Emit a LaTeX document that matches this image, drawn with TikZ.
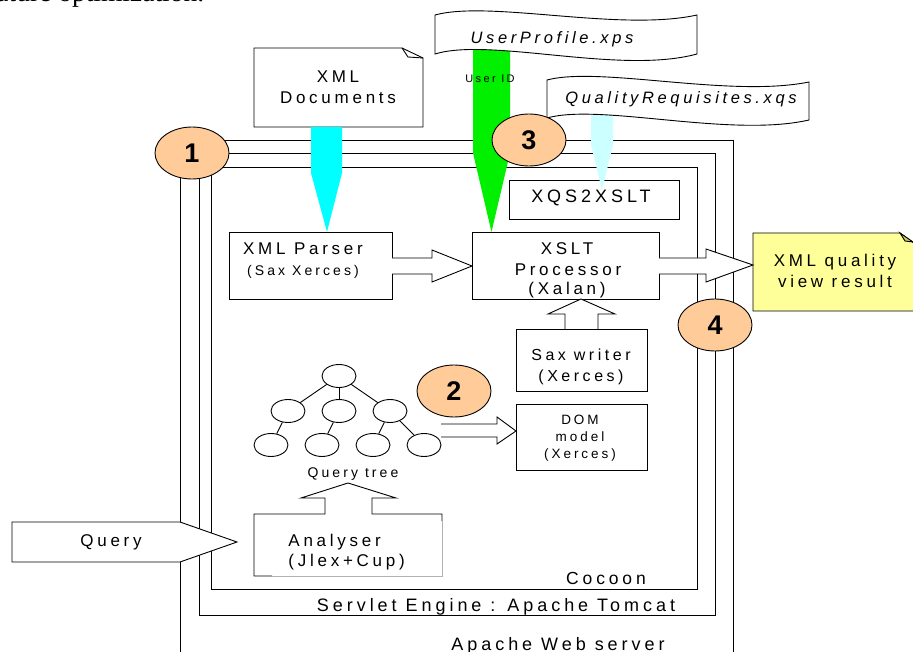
\documentclass[tikz,border=0pt]{standalone}
\usepackage{fontspec}
\setmainfont{Liberation Sans}
\newfontfamily\lsp[LetterSpace=22]{Liberation Sans}
\newfontfamily\serifx{Liberation Serif}
\usetikzlibrary{shapes.geometric}
\definecolor{orng}{HTML}{FFCC99}
\definecolor{cyn}{HTML}{00FFFF}
\definecolor{grn}{HTML}{00F000}
\definecolor{lcyn}{HTML}{CCFFFF}
\definecolor{ylw}{HTML}{FFFF99}
\definecolor{foldc}{HTML}{CCCC66}
\newcommand{\fsz}[1]{\fontsize{#1}{#1}\selectfont}
\begin{document}
\begin{tikzpicture}[x=1pt,y=-1pt,line width=0.9pt,
  lbl/.style={inner sep=0pt,anchor=base},
  t16/.style={lbl,font=\lsp\fsz{17}},
  t15/.style={lbl,font=\lsp\fsz{16}},
  t13/.style={lbl,font=\lsp\fsz{14}},
  tf/.style={lbl,font=\lsp\fsz{18}},
  ti/.style={lbl,font=\lsp\itshape\fsz{16.5}},
  boxnode/.style={draw,rectangle,inner sep=0pt},
  blk/.style={draw,fill=white,line join=miter},
  num/.style={ellipse,draw,fill=orng,minimum width=74pt,minimum height=52pt,inner sep=0pt,font=\bfseries\fsz{27}},
  leaf/.style={ellipse,draw,minimum width=34pt,minimum height=23pt,inner sep=0pt}]
\useasboundingbox (0,0) rectangle (913,652);

% fragment of running text
\node[inner sep=0pt,anchor=base west,font=\serifx\fsz{27.5}] (frag) at (-4,2) {ature optimization.};

% frames
\draw (180,660) -- (180,140) -- (733,140) -- (733,660);
\draw (199,153) rectangle (715,615);
\draw (211,167) rectangle (697,589);
\node[t16,font=\lsp\fsz{17.5}] (cocoon) at (606,584) {Cocoon};
\node[tf] (servlet) at (496,611) {Servlet Engine : Apache Tomcat};
\node[tf] (apache) at (558,650) {Apache Web server};

% boxes
\node[boxnode,minimum width=163pt,minimum height=67pt] (parser) at (310.5,265.5) {};
\node[boxnode,minimum width=187pt,minimum height=67pt] (xslt) at (565.5,265.5) {};
\node[boxnode,minimum width=170pt,minimum height=39pt] (xqs) at (594,199.5) {};
\node[boxnode,minimum width=131pt,minimum height=62pt] (sax) at (581.5,360) {};
\node[boxnode,minimum width=131pt,minimum height=66pt] (dom) at (581.5,437) {};

\node[t16] (t-parser1) at (303,255) {XML Parser};
\node[t13] (t-parser2) at (303,276) {(Sax Xerces)};
\node[t16] (t-xslt1) at (567,255) {XSLT};
\node[t16] (t-xslt2) at (568,276) {Processor};
\node[t16] (t-xslt3) at (567,295) {(Xalan)};
\node[font=\lsp\fsz{18},lbl] (t-xqs) at (591,203) {XQS2XSLT};
\node[t15] (t-sax1) at (581,360) {Sax writer};
\node[t15] (t-sax2) at (581,381) {(Xerces)};
\node[lbl,font=\lsp\fsz{13.5}] (t-dom1) at (580,424) {DOM};
\node[lbl,font=\lsp\fsz{13.5}] (t-dom2) at (580,441) {model};
\node[lbl,font=\lsp\fsz{13.5}] (t-dom3) at (580,458) {(Xerces)};

% XML documents note
\draw[fill=white,line join=miter] (254,48) -- (402,48) -- (423,58) -- (423,127) -- (254,127) -- cycle;
\draw (402,48) -- (408,57) -- (423,58);
\node[t16] (t-doc1) at (338,83) {XML};
\node[t16] (t-doc2) at (338,104) {Documents};

% result note
\fill[ylw] (753,233) -- (900,233) -- (918,246) -- (918,311) -- (753,311) -- cycle;
\draw (918,311) -- (753,311) -- (753,233) -- (900,233) -- (918,246);
\draw[fill=foldc,line join=miter] (900,233) -- (905,241) -- (913,242) -- cycle;
\node[t16] (t-res1) at (835,267) {XML quality};
\node[t16] (t-res2) at (835,288) {view result};

% block arrows
\draw[blk] (392,258) -- (432,258) -- (432,250) -- (472,266) -- (432,282) -- (432,274) -- (392,274);
\draw[blk] (659,258) -- (706,258) -- (706,249) -- (753,265) -- (706,282) -- (706,274) -- (659,274);
\draw[blk] (565,329) -- (565,314) -- (548,314) -- (581,299) -- (615,314) -- (598,314) -- (598,329);
\draw[blk] (441,424) -- (497,424) -- (497,417) -- (516,431) -- (497,444) -- (497,437) -- (441,437);
\draw[blk] (12,522) -- (180,522) -- (237,542) -- (180,562) -- (12,562) -- cycle;
\node[t16] (t-query) at (111,546) {Query};

% analyser
\draw[line join=miter] (442,521) -- (442,514) -- (372,514) -- (372,498) -- (396,498) -- (348,483) -- (301,498) -- (325,498) -- (325,514) -- (254,514) -- (254,576) -- (272,576);
\draw[gray!60,line width=0.5pt] (272,576) -- (442,576) -- (442,521);
\node[t16,anchor=base west] (t-an1) at (288,546) {Analyser};
\node[t16,anchor=base west] (t-an2) at (288,566) {(Jlex+Cup)};

% query tree
\node[leaf] (root) at (339,376) {};
\node[leaf] (l1) at (288,411) {};
\node[leaf] (l2) at (339,411) {};
\node[leaf] (l3) at (390,411) {};
\node[leaf] (la) at (271,445) {};
\node[leaf] (lb) at (322,445) {};
\node[leaf] (lc) at (373,445) {};
\node[leaf] (ld) at (424,445) {};
\draw (root) -- (l1); \draw (root) -- (l2); \draw (root) -- (l3);
\draw (l1) -- (la); \draw (l2) -- (lb); \draw (l3) -- (lc); \draw (l3) -- (ld);
\node[lbl,font=\lsp\fsz{14}] (t-tree) at (353,477) {Query tree};

% colored arrows
\fill[grn] (473,40) -- (510,40) -- (510,153) -- (491.5,232) -- (473,153) -- cycle;
\fill[cyn] (311,127) -- (342,127) -- (342,173) -- (327,232) -- (311,173) -- cycle;
\fill[lcyn] (591,110) -- (613,110) -- (613,145) -- (602,190) -- (591,145) -- cycle;
\node[lbl,font=\lsp\fsz{11}] (t-uid) at (490,83) {User ID};

% tapes
\draw[fill=white] (435,15) .. controls (490,0) and (620,32) .. (697,15) -- (697,54) .. controls (620,75) and (490,37) .. (435,54) -- cycle;
\node[ti] (t-up) at (552,44) {UserProfile.xps};
\draw[fill=white] (547,80) .. controls (600,66) and (730,98) .. (809,82) -- (809,120) .. controls (730,138) and (600,103) .. (547,118) -- cycle;
\node[ti] (t-qr) at (681,104) {QualityRequisites.xqs};

% numbered circles
\node[num] (c1) at (192,153) {1};
\node[num] (c2) at (454,391) {2};
\node[num] (c3) at (529,140) {3};
\node[num] (c4) at (715,325) {4};
\end{tikzpicture}
\end{document}
